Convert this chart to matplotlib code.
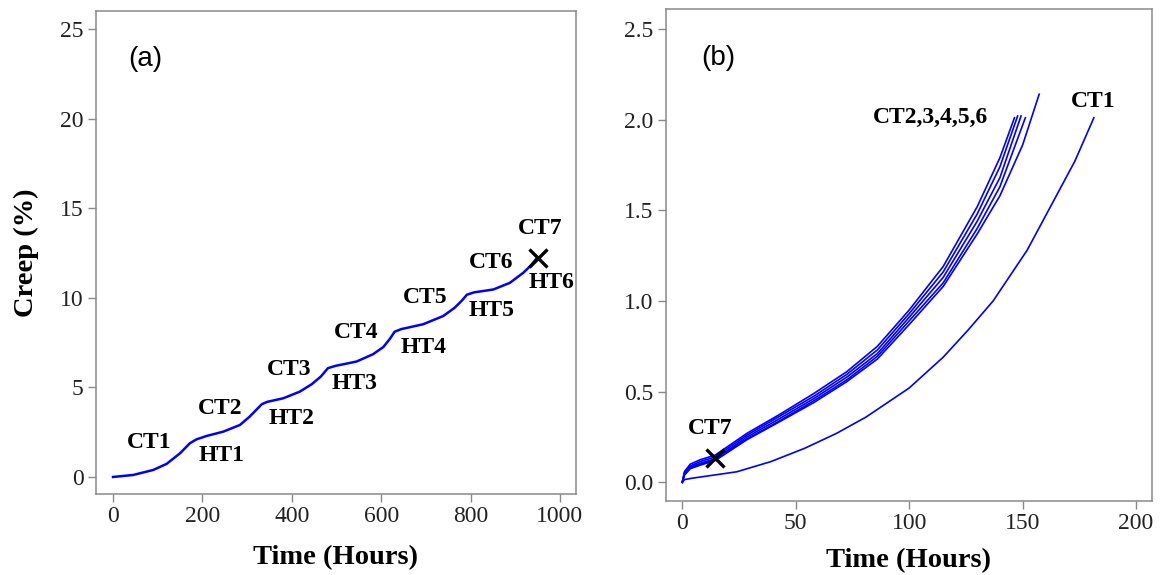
import matplotlib
matplotlib.use("Agg")
import matplotlib.pyplot as plt

# (a) cumulative creep over the whole CT/HT sequence
time_all = [0, 45, 90, 120, 150, 172, 187, 210, 247, 284, 306, 322, 333, 345, 381, 418,
            445, 465, 481, 498, 545, 582, 605, 620, 630, 645, 694, 739, 765, 781, 792,
            808, 851, 888, 918, 935, 948]
creep_all = [0, 0.11, 0.39, 0.73, 1.32, 1.88, 2.10, 2.29, 2.53, 2.90, 3.37, 3.78, 4.06,
             4.19, 4.39, 4.76, 5.18, 5.6, 6.07, 6.2, 6.44, 6.85, 7.25, 7.72, 8.1, 8.25,
             8.52, 8.98, 9.45, 9.85, 10.17, 10.3, 10.46, 10.83, 11.39, 11.8, 12.2]
fail_a = (951, 12.22)
labels_a = [("CT1", 82, 1.94), ("HT1", 243, 1.2), ("CT2", 239, 3.8), ("HT2", 399, 3.24),
            ("CT3", 395, 6.0), ("HT3", 541, 5.19), ("CT4", 545, 8.06), ("HT4", 694, 7.2),
            ("CT5", 698, 10.0), ("HT5", 847, 9.26), ("CT6", 847, 11.94), ("HT6", 981, 10.83),
            ("CT7", 955, 13.84)]

# (b) individual creep tests
t_ct1 = [0, 1, 4, 9, 24, 39, 54, 68, 81, 100, 115, 126, 137, 152, 164, 173, 181.4]
c_ct1 = [0, 0.015, 0.022, 0.031, 0.058, 0.114, 0.188, 0.27, 0.36, 0.52, 0.69, 0.84, 1.0,
         1.28, 1.56, 1.77, 2.01]

t_ct2 = [0, 1, 3.5, 8, 14.5, 28.5, 43, 58, 72.5, 86, 100, 115, 130, 140, 146.4]
c_ct2 = [0, 0.06, 0.10, 0.125, 0.15, 0.27, 0.375, 0.49, 0.61, 0.75, 0.95, 1.19, 1.52,
         1.79, 2.01]
t_ct3 = [0, 1, 3.5, 8, 14.5, 28.5, 43, 58, 72.5, 86, 100, 115, 130, 140, 147.8]
c_ct3 = [0, 0.055, 0.09, 0.115, 0.14, 0.26, 0.365, 0.475, 0.595, 0.73, 0.93, 1.16, 1.48,
         1.74, 2.02]
t_ct4 = [0, 1, 3.5, 8, 14.5, 28.5, 43, 58, 72.5, 86, 100, 115, 130, 140, 149.3]
c_ct4 = [0, 0.05, 0.085, 0.105, 0.13, 0.25, 0.352, 0.462, 0.58, 0.71, 0.91, 1.13, 1.44,
         1.68, 2.02]
t_ct5 = [0, 1, 3.5, 8, 14.5, 28.5, 43, 58, 72.5, 86, 100, 115, 130, 140, 151.2]
c_ct5 = [0, 0.045, 0.08, 0.10, 0.125, 0.24, 0.34, 0.45, 0.565, 0.695, 0.89, 1.10, 1.40,
         1.63, 2.01]
t_ct6 = [0, 1, 3.5, 8, 14.5, 28.5, 43, 58, 72.5, 86, 100, 115, 130, 140, 150, 157.3]
c_ct6 = [0, 0.04, 0.075, 0.095, 0.12, 0.235, 0.335, 0.44, 0.555, 0.68, 0.87, 1.08, 1.37,
         1.58, 1.86, 2.14]
fail_b = (14.4, 0.132)
labels_b = [("CT2,3,4,5,6", 109.6, 2.01), ("CT1", 181.3, 2.10), ("CT7", 12.2, 0.294)]

SERIF = "Liberation Serif"
SANS = "Liberation Sans"
GREY = "#8a8a8a"

fig = plt.figure(figsize=(11.61, 5.75), dpi=100)
ax1 = fig.add_axes([0.0827, 0.1409, 0.4134, 0.840])
ax2 = fig.add_axes([0.5736, 0.1287, 0.4186, 0.8557])


def style_axes(ax):
    for sp in ax.spines.values():
        sp.set_color(GREY)
        sp.set_linewidth(1.1)
    ax.tick_params(direction="out", length=6, width=1.0, color=GREY, pad=3,
                   labelsize=17)
    for lab in ax.get_xticklabels() + ax.get_yticklabels():
        lab.set_fontfamily(SERIF)
        lab.set_color("#222222")


# panel (a)
ax1.plot(time_all, creep_all, color="blue", lw=1.8)
ax1.plot(*fail_a, marker="x", color="black", ms=13, mew=2.4)
for txt, x, y in labels_a:
    ax1.text(x, y, txt, ha="center", va="center", fontsize=17, fontweight="bold",
             family=SERIF)
ax1.text(0.102, 0.90, "(a)", transform=ax1.transAxes, ha="center", va="center",
         fontsize=20, family=SANS)
ax1.set_xlim(-38, 1036)
ax1.set_ylim(-0.95, 26.0)
ax1.set_xticks([0, 200, 400, 600, 800, 1000])
ax1.set_yticks([0, 5, 10, 15, 20, 25])
ax1.set_xlabel("Time (Hours)", fontsize=20.5, fontweight="bold", family=SERIF, labelpad=13)
ax1.set_ylabel("Creep (%)", fontsize=20.5, fontweight="bold", family=SERIF, labelpad=15)
style_axes(ax1)

# panel (b)
for t, c in [(t_ct1, c_ct1), (t_ct2, c_ct2), (t_ct3, c_ct3), (t_ct4, c_ct4),
             (t_ct5, c_ct5), (t_ct6, c_ct6)]:
    ax2.plot(t, c, color="blue", lw=1.2)
ax2.plot(*fail_b, marker="x", color="black", ms=13, mew=2.4)
for txt, x, y in labels_b:
    ax2.text(x, y, txt, ha="center", va="center", fontsize=17, fontweight="bold",
             family=SERIF)
ax2.text(0.107, 0.90, "(b)", transform=ax2.transAxes, ha="center", va="center",
         fontsize=20, family=SANS)
ax2.set_xlim(-7.2, 207)
ax2.set_ylim(-0.103, 2.61)
ax2.set_xticks([0, 50, 100, 150, 200])
ax2.set_yticks([0.0, 0.5, 1.0, 1.5, 2.0, 2.5])
ax2.set_yticklabels(["0.0", "0.5", "1.0", "1.5", "2.0", "2.5"])
ax2.set_xlabel("Time (Hours)", fontsize=20.5, fontweight="bold", family=SERIF, labelpad=10)
style_axes(ax2)

fig.savefig("out.png", dpi=100)
